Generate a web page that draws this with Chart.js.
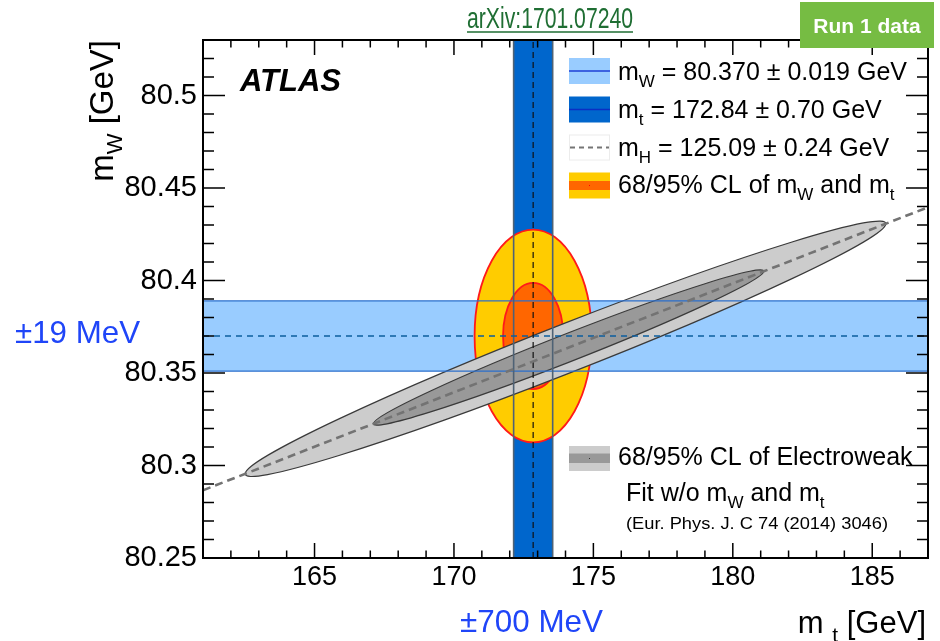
<!DOCTYPE html>
<html>
<head>
<meta charset="utf-8">
<script src="https://cdn.jsdelivr.net/npm/chart.js@4.4.1/dist/chart.umd.min.js"></script>
<style>
  html, body { margin: 0; padding: 0; background: #ffffff; }
  #wrap { width: 940px; height: 641px; position: relative; }
</style>
</head>
<body>
<div id="wrap"><canvas id="c" width="940" height="641"></canvas></div>
<script>
// ---- axis ranges and tick labels ----
const xRange = [161, 187];                  // m_t [GeV]
const yRange = [80.25, 80.53];              // m_W [GeV]
const xTicks = [165, 170, 175, 180, 185];
const yTicks = [80.25, 80.30, 80.35, 80.40, 80.45, 80.50];
const xMinorStep = [1];
const yMinorStep = [0.01];

// ---- measurements: [value, uncertainty] in GeV ----
const mWMeas = [80.370, 0.019];
const mTMeas = [172.84, 0.70];
const mHMeas = [125.09, 0.24];

// SM prediction for the measured m_H: line through two (m_t, m_W) points
const mHLine = [[161, 80.2866], [187, 80.4396]];

// 68/95% CL of the m_W, m_t measurement: [centre m_t, centre m_W, half-width m_t, half-height m_W]
const measCL68 = [172.84, 80.370, 1.08, 0.0287];
const measCL95 = [172.84, 80.370, 2.10, 0.0575];

// 68/95% CL of the electroweak fit: [m_t at lower tip, m_t at upper tip, half-thickness in m_W]
// (the long axis runs along the m_H line)
const ewCL68 = [167.11, 181.11, 0.0080];
const ewCL95 = [162.51, 185.49, 0.0140];

const FONT = "'Liberation Sans', Arial, Helvetica, sans-serif";

function lineOnMH(mt) {
  const [p0, p1] = mHLine;
  return p0[1] + (mt - p0[0]) * (p1[1] - p0[1]) / (p1[0] - p0[0]);
}

function lineDS(points, color, width, dash, order) {
  return {
    type: 'line',
    data: points.map(([x, y]) => ({ x, y })),
    borderColor: color,
    borderWidth: width,
    borderDash: dash,
    pointRadius: 0,
    showLine: true,
    fill: false,
    tension: 0,
    order: order
  };
}

// filled regions: bands and confidence contours
const regionsPlugin = {
  id: 'regions',
  beforeDatasetsDraw(chart) {
    const { ctx, chartArea: a, scales: { x, y } } = chart;
    ctx.save();
    ctx.beginPath();
    ctx.rect(a.left, a.top, a.right - a.left, a.bottom - a.top);
    ctx.clip();

    // m_W band
    const wTop = y.getPixelForValue(mWMeas[0] + mWMeas[1]);
    const wBot = y.getPixelForValue(mWMeas[0] - mWMeas[1]);
    ctx.fillStyle = '#99ccff';
    ctx.fillRect(a.left, wTop, a.right - a.left, wBot - wTop);

    // m_t band
    const tL = x.getPixelForValue(mTMeas[0] - mTMeas[1]);
    const tR = x.getPixelForValue(mTMeas[0] + mTMeas[1]);
    ctx.fillStyle = '#0066cc';
    ctx.fillRect(tL, a.top, tR - tL, a.bottom - a.top);

    // measurement contours
    const drawMeas = (cl, fill) => {
      const cx = x.getPixelForValue(cl[0]);
      const cy = y.getPixelForValue(cl[1]);
      const rx = x.getPixelForValue(cl[0] + cl[2]) - cx;
      const ry = cy - y.getPixelForValue(cl[1] + cl[3]);
      ctx.beginPath();
      ctx.ellipse(cx, cy, rx, ry, 0, 0, Math.PI * 2);
      ctx.fillStyle = fill;
      ctx.fill();
      ctx.lineWidth = 1.8;
      ctx.strokeStyle = '#ff1a1a';
      ctx.stroke();
    };
    drawMeas(measCL95, '#ffcc00');
    drawMeas(measCL68, '#ff6600');

    // electroweak fit contours
    const drawEW = (cl, fill) => {
      const mtc = (cl[0] + cl[1]) / 2;
      const half = (cl[1] - cl[0]) / 2;
      const cx = x.getPixelForValue(mtc);
      const cy = y.getPixelForValue(lineOnMH(mtc));
      const ax = x.getPixelForValue(mtc + half) - cx;
      const ay = y.getPixelForValue(lineOnMH(mtc + half)) - cy;
      const by = y.getPixelForValue(lineOnMH(mtc) + cl[2]) - cy;
      ctx.save();
      ctx.transform(ax, ay, 0, by, cx, cy);
      ctx.beginPath();
      ctx.arc(0, 0, 1, 0, Math.PI * 2);
      ctx.restore();
      ctx.fillStyle = fill;
      ctx.fill();
      ctx.lineWidth = 1.2;
      ctx.strokeStyle = '#3a3a3a';
      ctx.stroke();
    };
    drawEW(ewCL95, '#cccccc');
    drawEW(ewCL68, '#999999');

    ctx.restore();
  }
};

// frame with inward ticks on all four sides
const framePlugin = {
  id: 'frame',
  afterDatasetsDraw(chart) {
    const { ctx, chartArea: a, scales: { x, y } } = chart;
    ctx.save();
    ctx.strokeStyle = '#000';
    ctx.lineWidth = 1.5;
    ctx.beginPath();
    const nx = Math.round((xRange[1] - xRange[0]) / xMinorStep[0]);
    for (let i = 0; i <= nx; i++) {
      const v = xRange[0] + i * xMinorStep[0];
      const px = x.getPixelForValue(v);
      const major = xTicks.some(t => Math.abs(t - v) < 1e-6);
      const len = major ? 15 : 7.5;
      ctx.moveTo(px, a.bottom); ctx.lineTo(px, a.bottom - len);
      ctx.moveTo(px, a.top); ctx.lineTo(px, a.top + len);
    }
    const ny = Math.round((yRange[1] - yRange[0]) / yMinorStep[0]);
    for (let i = 0; i <= ny; i++) {
      const v = yRange[0] + i * yMinorStep[0];
      const py = y.getPixelForValue(v);
      const major = yTicks.some(t => Math.abs(t - v) < 1e-6);
      const len = major ? 22 : 11;
      ctx.moveTo(a.left, py); ctx.lineTo(a.left + len, py);
      ctx.moveTo(a.right, py); ctx.lineTo(a.right - len, py);
    }
    ctx.stroke();
    ctx.lineWidth = 2;
    ctx.strokeRect(a.left, a.top, a.right - a.left, a.bottom - a.top);
    ctx.restore();
  }
};

// text with subscripts: parts = [[text, isSub], ...]
function richWidth(ctx, parts, size, subSize) {
  let w = 0;
  for (const [t, sub] of parts) {
    ctx.font = (sub ? subSize : size) + 'px ' + FONT;
    w += ctx.measureText(t).width;
  }
  return w;
}
function richText(ctx, x, y, parts, size, subSize, subDy, align) {
  let cx = x;
  if (align === 'right') cx = x - richWidth(ctx, parts, size, subSize);
  ctx.textAlign = 'left';
  ctx.textBaseline = 'alphabetic';
  for (const [t, sub] of parts) {
    ctx.font = (sub ? subSize : size) + 'px ' + FONT;
    ctx.fillText(t, cx, y + (sub ? subDy : 0));
    cx += ctx.measureText(t).width;
  }
}
function fittedText(ctx, text, x, y, width, font, color) {
  ctx.save();
  ctx.font = font;
  ctx.fillStyle = color;
  ctx.textAlign = 'left';
  ctx.textBaseline = 'alphabetic';
  const w = ctx.measureText(text).width;
  ctx.translate(x, y);
  ctx.scale(width / w, 1);
  ctx.fillText(text, 0, 0);
  ctx.restore();
}

const annotPlugin = {
  id: 'annotations',
  afterDraw(chart) {
    const ctx = chart.ctx;
    ctx.save();
    ctx.fillStyle = '#000';

    // ATLAS label
    ctx.font = 'italic bold 31px ' + FONT;
    ctx.textAlign = 'left';
    ctx.textBaseline = 'alphabetic';
    ctx.fillText('ATLAS', 240, 91);

    // legend
    const bx = 569, bw = 41, bh = 26;
    const rows = [
      { y: 80, parts: [['m', 0], ['W', 1], [` = ${mWMeas[0].toFixed(3)} ± ${mWMeas[1].toFixed(3)} GeV`, 0]] },
      { y: 118, parts: [['m', 0], ['t', 1], [` = ${mTMeas[0].toFixed(2)} ± ${mTMeas[1].toFixed(2)} GeV`, 0]] },
      { y: 156, parts: [['m', 0], ['H', 1], [` = ${mHMeas[0].toFixed(2)} ± ${mHMeas[1].toFixed(2)} GeV`, 0]] },
      { y: 193, parts: [['68/95% CL of m', 0], ['W', 1], [' and m', 0], ['t', 1]] }
    ];
    const boxTops = [58, 96.5, 134.5, 172.5];
    // box 1: m_W band
    ctx.fillStyle = '#99ccff';
    ctx.fillRect(bx, boxTops[0], bw, bh);
    ctx.strokeStyle = '#1f3fd6'; ctx.lineWidth = 1.5;
    ctx.beginPath(); ctx.moveTo(bx, boxTops[0] + bh / 2); ctx.lineTo(bx + bw, boxTops[0] + bh / 2); ctx.stroke();
    // box 2: m_t band
    ctx.fillStyle = '#0066cc';
    ctx.fillRect(bx, boxTops[1], bw, bh);
    ctx.strokeStyle = '#0a2fc4';
    ctx.beginPath(); ctx.moveTo(bx, boxTops[1] + bh / 2); ctx.lineTo(bx + bw, boxTops[1] + bh / 2); ctx.stroke();
    // box 3: m_H line
    ctx.strokeStyle = '#ececec'; ctx.lineWidth = 1;
    ctx.strokeRect(bx + 0.5, boxTops[2] + 0.5, bw - 1, bh - 1);
    ctx.strokeStyle = '#757575'; ctx.lineWidth = 2; ctx.setLineDash([5, 4]);
    ctx.beginPath(); ctx.moveTo(bx + 1, boxTops[2] + bh / 2); ctx.lineTo(bx + bw - 1, boxTops[2] + bh / 2); ctx.stroke();
    ctx.setLineDash([]);
    // box 4: measurement contours
    ctx.fillStyle = '#ffcc00';
    ctx.fillRect(bx, boxTops[3], bw, bh);
    ctx.fillStyle = '#ff6600';
    ctx.fillRect(bx, boxTops[3] + 8.5, bw, 9);
    ctx.fillStyle = '#ff0000';
    ctx.fillRect(bx + bw / 2 - 0.5, boxTops[3] + bh / 2 - 0.5, 1, 1);
    // box 5: electroweak fit contours
    ctx.fillStyle = '#cccccc';
    ctx.fillRect(bx, 446, bw, 25);
    ctx.fillStyle = '#999999';
    ctx.fillRect(bx, 453.5, bw, 9.5);
    ctx.fillStyle = '#333';
    ctx.fillRect(bx + bw / 2 - 0.5, 458, 1, 1);

    ctx.fillStyle = '#000';
    for (const r of rows) richText(ctx, 618, r.y, r.parts, 25, 17, 7);
    richText(ctx, 618, 465, [['68/95% CL of Electroweak', 0]], 25, 17, 7);
    richText(ctx, 626, 501, [['Fit w/o m', 0], ['W', 1], [' and m', 0], ['t', 1]], 25, 17, 7);
    fittedText(ctx, '(Eur. Phys. J. C 74 (2014) 3046)', 626, 529, 262, '17px ' + FONT, '#000');

    // axis titles
    richText(ctx, 926, 633, [['m', 0], [' ', 0], ['t', 1], [' [GeV]', 0]], 31, 21, 9, 'right');
    ctx.save();
    ctx.translate(113, 40);
    ctx.rotate(-Math.PI / 2);
    richText(ctx, 0, 0, [['m', 0], ['W', 1], [' [GeV]', 0]], 33, 22, 9, 'right');
    ctx.restore();

    // uncertainty annotations
    fittedText(ctx, '±19 MeV', 15, 343, 125, '32px ' + FONT, '#1f45f8');
    fittedText(ctx, '±700 MeV', 460, 632, 143, '32px ' + FONT, '#1f45f8');

    // reference
    fittedText(ctx, 'arXiv:1701.07240', 467, 28, 166, '30px ' + FONT, '#1f6e33');
    ctx.strokeStyle = '#1f6e33'; ctx.lineWidth = 1.5;
    ctx.beginPath(); ctx.moveTo(467, 32); ctx.lineTo(633, 32); ctx.stroke();

    // data tag
    ctx.fillStyle = '#76bc43';
    ctx.fillRect(800, 2, 134, 46);
    ctx.fillStyle = '#ffffff';
    ctx.font = 'bold 21px ' + FONT;
    ctx.textAlign = 'center';
    ctx.textBaseline = 'alphabetic';
    ctx.fillText('Run 1 data', 867, 33);

    ctx.restore();
  }
};

const datasets = [
  lineDS(mHLine, '#737373', 2.6, [8, 5], 0),
  lineDS([[mTMeas[0], yRange[0]], [mTMeas[0], yRange[1]]], '#111111', 1.2, [6, 4], 1),
  lineDS([[xRange[0], mWMeas[0]], [xRange[1], mWMeas[0]]], '#0b5d9e', 1.3, [6, 5], 1),
  lineDS([[mTMeas[0] - mTMeas[1], yRange[0]], [mTMeas[0] - mTMeas[1], yRange[1]]], '#4e6275', 1.6, [], 2),
  lineDS([[mTMeas[0] + mTMeas[1], yRange[0]], [mTMeas[0] + mTMeas[1], yRange[1]]], '#4e6275', 1.6, [], 2),
  lineDS([[xRange[0], mWMeas[0] - mWMeas[1]], [xRange[1], mWMeas[0] - mWMeas[1]]], '#2b6fcc', 1.4, [], 2),
  lineDS([[xRange[0], mWMeas[0] + mWMeas[1]], [xRange[1], mWMeas[0] + mWMeas[1]]], '#2b6fcc', 1.4, [], 2)
];

new Chart(document.getElementById('c').getContext('2d'), {
  type: 'scatter',
  data: { datasets },
  options: {
    responsive: false,
    animation: false,
    events: [],
    layout: { padding: { top: 40, right: 12, left: 0, bottom: 0 } },
    plugins: { legend: { display: false }, tooltip: { enabled: false } },
    scales: {
      x: {
        type: 'linear', position: 'bottom', min: xRange[0], max: xRange[1],
        grid: { display: false, drawTicks: false, tickLength: 0 },
        border: { display: false },
        ticks: {
          autoSkip: false, maxRotation: 0, padding: 3, color: '#000',
          font: { family: FONT, size: 27 },
          callback: v => String(v)
        },
        afterBuildTicks: s => { s.ticks = xTicks.map(v => ({ value: v })); },
        afterFit: s => { s.height = 83; }
      },
      y: {
        type: 'linear', position: 'left', min: yRange[0], max: yRange[1],
        grid: { display: false, drawTicks: false, tickLength: 0 },
        border: { display: false },
        ticks: {
          autoSkip: false, padding: 6, color: '#000',
          font: { family: FONT, size: 29 },
          callback: v => String(Number(v.toFixed(2)))
        },
        afterBuildTicks: s => { s.ticks = yTicks.map(v => ({ value: v })); },
        afterFit: s => { s.width = 203; }
      }
    }
  },
  plugins: [regionsPlugin, framePlugin, annotPlugin]
});
</script>
</body>
</html>
